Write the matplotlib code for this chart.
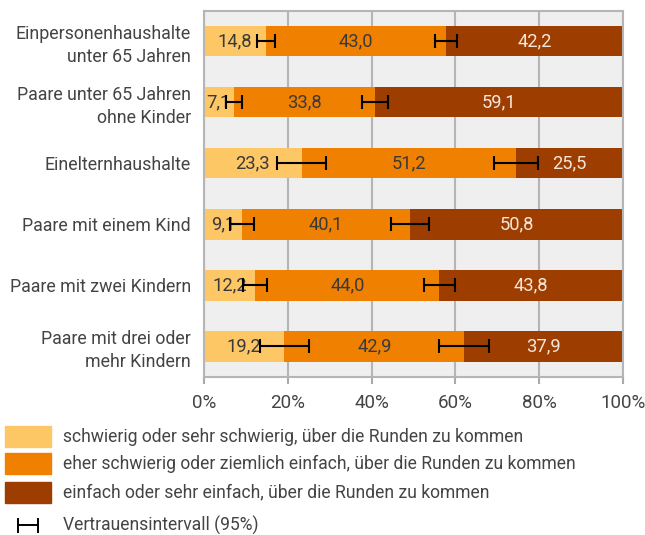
import matplotlib
matplotlib.use("Agg")
import matplotlib.pyplot as plt
from matplotlib.patches import Rectangle
from matplotlib.lines import Line2D
import numpy as np

plt.rcParams['font.family'] = ['Roboto', 'DejaVu Sans']
plt.rcParams['font.weight'] = 'normal'

categories = ["Einpersonenhaushalte\nunter 65 Jahren",
              "Paare unter 65 Jahren\nohne Kinder",
              "Einelternhaushalte",
              "Paare mit einem Kind",
              "Paare mit zwei Kindern",
              "Paare mit drei oder\nmehr Kindern"]
schwierig = [14.8, 7.1, 23.3, 9.1, 12.2, 19.2]
mittel = [43.0, 33.8, 51.2, 40.1, 44.0, 42.9]
einfach = [42.2, 59.1, 25.5, 50.8, 43.8, 37.9]
ci_schwierig = [2.1, 1.9, 5.8, 2.9, 2.9, 5.8]
ci_mittel = [2.6, 3.1, 5.2, 4.6, 3.7, 6.0]

series_labels = ["schwierig oder sehr schwierig, über die Runden zu kommen",
                 "eher schwierig oder ziemlich einfach, über die Runden zu kommen",
                 "einfach oder sehr einfach, über die Runden zu kommen"]
ci_label = "Vertrauensintervall (95%)"
xticks = [0, 20, 40, 60, 80, 100]

colors = ["#FDC765", "#F08000", "#9E3D00"]
text_colors = ["#3A3A3A", "#3A3A3A", "#F5E6DA"]
txt = "#444444"

fig = plt.figure(figsize=(6.45, 5.35), dpi=100)
ax = fig.add_axes([204/645, 1-377/535, (623-204)/645, (377-10.5)/535])
ax.set_facecolor("#EFEFEF")

y = np.arange(len(categories))
left = np.zeros(len(categories))
for vals, c, tc in zip([schwierig, mittel, einfach], colors, text_colors):
    vals = np.array(vals)
    ax.barh(y, vals, left=left, height=0.5, color=c, zorder=2)
    for yi, l, v in zip(y, left, vals):
        ax.text(l + v/2, yi, f"{v:.1f}".replace(".", ","), ha="center", va="center",
                color=tc, fontsize=13.2, zorder=4)
    left = left + vals

cum1 = np.array(schwierig)
cum2 = cum1 + np.array(mittel)
ax.errorbar(cum1, y, xerr=ci_schwierig, fmt="none", ecolor="black", elinewidth=1.5,
            capsize=4.7, capthick=1.5, zorder=5)
ax.errorbar(cum2, y, xerr=ci_mittel, fmt="none", ecolor="black", elinewidth=1.5,
            capsize=4.7, capthick=1.5, zorder=5)

ax.set_xlim(0, 100)
ax.set_ylim(len(categories)-0.5, -0.5)
ax.set_xticks(xticks)
ax.set_xticklabels([f"{t}%" for t in xticks], fontsize=13.5, color=txt)
ax.set_yticks(y)
ax.set_yticklabels(categories, fontsize=12.8, color=txt, ha="right", multialignment="right",
                   linespacing=1.33)
ax.tick_params(axis="y", length=0, pad=9.5)
ax.tick_params(axis="x", length=5, color="#AAAAAA", width=1.5, pad=7.5)
ax.grid(axis="x", color="#B5B5B5", linewidth=1.5, zorder=1)
ax.set_axisbelow(True)
for s in ax.spines.values():
    s.set_color("#B5B5B5")
    s.set_linewidth(1.5)

# legend
leg_y = [436.5, 463.5, 492.5]
for yy, c, lab in zip(leg_y, colors, series_labels):
    fig.add_artist(Rectangle((5/645, 1-(yy+10.5)/535), 46/645, 21/535,
                             transform=fig.transFigure, color=c))
    fig.text(63/645, 1-yy/535, lab, ha="left", va="center", fontsize=12.65, color=txt)
yy = 525
fig.add_artist(Line2D([18/645, 38/645], [1-yy/535]*2, transform=fig.transFigure, color="black", lw=1.4))
for xx in [18, 38]:
    fig.add_artist(Line2D([xx/645]*2, [1-(yy-6.5)/535, 1-(yy+6.5)/535], transform=fig.transFigure, color="black", lw=1.4))
fig.text(63/645, 1-yy/535, ci_label, ha="left", va="center", fontsize=12.65, color=txt)

fig.savefig("out.png", dpi=100)
